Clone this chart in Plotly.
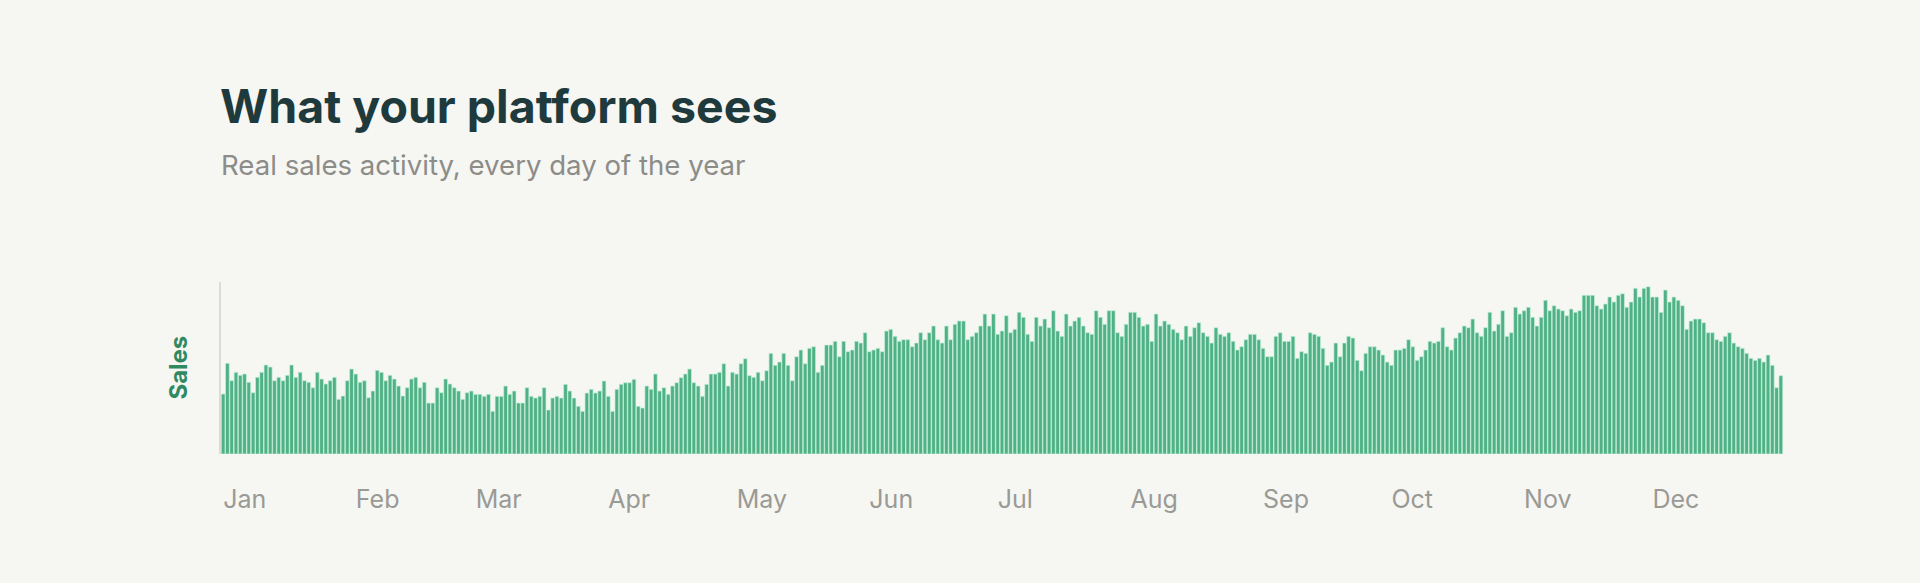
import pandas as pd
import plotly.graph_objects as go

# Daily sales (one list per month)
jan = [60, 90.7, 73.3, 81.7, 78.7, 80, 71.7, 61.3, 76.7, 81.7, 89, 87, 73.3, 76.7, 73.3, 78.7,
       89, 76.7, 81.7, 73.3, 71.7, 66.3, 81.7, 75, 70, 73.3, 76.7, 54.7, 58, 73.3, 85]
feb = [80, 71.7, 73.3, 56.3, 63, 83.7, 81.7, 73.3, 78.7, 75, 68, 58, 66.3, 75, 76.7, 66.3,
       71.7, 51, 51, 66.3, 61.3, 75, 70, 66.3, 63, 54.7, 61.3, 63]
mar = [59.7, 59.7, 57.7, 59.7, 42.7, 57.7, 57.7, 68, 59.7, 63, 51, 51, 66.3, 57.7, 56, 57.7,
       66.3, 44, 56, 57.7, 56, 69.7, 63, 56, 47.7, 42.7, 61, 64.7, 61, 63, 73]
apr = [57.7, 42.7, 64.7, 69.7, 71.3, 71.3, 74.7, 47.7, 46, 68, 64.7, 80, 63, 66.3, 59.7, 68,
       71.3, 76.3, 80, 85, 71.3, 68, 57.7, 69.7, 80, 80, 81.7, 90.3, 68, 81.7]
may = [80, 90.3, 95.3, 78.3, 76.7, 81.7, 73.3, 83.3, 100.7, 88.7, 92, 100.7, 88.7, 73.3, 97.3,
       104, 90.3, 105.7, 107.3, 81.7, 88.7, 109, 109, 112.7, 97.3, 112.7, 102.3, 104, 112.7,
       111, 121.3]
jun = [102.3, 104, 105.7, 102.3, 123, 124.7, 117.7, 112.7, 114.3, 114.3, 107.3, 111, 121.3,
       114.3, 121.3, 128, 114.3, 111, 128, 114.3, 129.7, 133, 133, 114.3, 117.7, 121.3, 128,
       140, 128, 140]
jul = [119.7, 123, 138.3, 121.3, 124.7, 141.7, 136.7, 119.7, 112.7, 136.7, 128, 135, 126.3,
       143.3, 123, 117.7, 140, 128, 133, 136.7, 128, 121.3, 119.7, 143.3, 136.7, 129.7, 143.3,
       143.3, 121.3, 117.7, 129.7]
aug = [141.7, 141.7, 136.7, 128, 129.7, 112.7, 140, 128, 133, 129.7, 124.7, 121.3, 114.3, 128,
       117.7, 126.3, 131.3, 121.3, 117.7, 111, 126.3, 119.7, 117.7, 121.3, 112.7, 104, 107.3,
       114.3, 119.7, 119.7, 114.3]
sep = [105.7, 97.3, 97.3, 117.7, 121.3, 112.7, 112.7, 117.7, 95.7, 102.3, 100.7, 121.3, 119.7,
       117.7, 105.7, 88.7, 92, 111, 97.3, 111, 117.7, 116, 93.7, 83.3, 100.7, 107.3, 107.3,
       104, 99, 92]
oct = [88.7, 104, 104, 105.7, 114.3, 107.3, 93.7, 97.3, 104, 112.7, 111, 112.7, 126.3, 107.3,
       104, 116, 121.3, 128, 126.3, 135, 121.3, 117.7, 126.3, 141.7, 123, 129.7, 143.3, 117.7,
       121.3, 146.7, 140]
nov = [143.3, 146.7, 136.7, 128, 136.7, 153.7, 143.3, 148.3, 145, 143.3, 138.3, 145, 141.7,
       143.3, 158.7, 158.7, 158.7, 148.3, 145, 150, 157, 152, 158.7, 160.3, 146.7, 152, 165.7,
       157, 165.7, 167.3]
dec = [157, 157, 141.7, 164, 152, 157, 153.7, 148.3, 124.7, 133, 135, 135, 131.3, 121.3, 121.3,
       114.3, 112.7, 117.7, 121.3, 111, 107.3, 105.7, 100.7, 95.7, 93.7, 95.7, 92, 99, 88.7,
       66.3, 78.3]

month_labels = ["Jan", "Feb", "Mar", "Apr", "May", "Jun",
                "Jul", "Aug", "Sep", "Oct", "Nov", "Dec"]

sales = jan + feb + mar + apr + may + jun + jul + aug + sep + oct + nov + dec
days = pd.date_range("2025-01-01", periods=len(sales), freq="D")
month_starts = pd.date_range("2025-01-01", periods=12, freq="MS")

BG = "#f6f6f3"
BAR = "#4fb185"
BAR_EDGE = "#c6f0da"

fig = go.Figure()
fig.add_trace(
    go.Bar(
        x=days,
        y=sales,
        marker=dict(color=BAR, line=dict(color=BAR_EDGE, width=0.7)),
        hovertemplate="%{x|%b %d}: %{y}<extra></extra>",
    )
)

fig.update_layout(
    width=1920,
    height=583,
    paper_bgcolor=BG,
    plot_bgcolor=BG,
    bargap=0.12,
    showlegend=False,
    margin=dict(l=221, r=137, t=282, b=129, autoexpand=False),
    font=dict(family="Inter", color="#999994"),
    xaxis=dict(
        type="date",
        range=["2024-12-31 12:00", "2025-12-31 12:00"],
        tickvals=month_starts,
        ticktext=month_labels,
        ticklabelposition="outside right",
        ticks="",
        ticklabelstandoff=28,
        tickfont=dict(size=25, color="#9a9a95"),
        showgrid=False,
        zeroline=False,
        showline=False,
    ),
    yaxis=dict(
        range=[0, 172],
        showticklabels=False,
        ticks="",
        showgrid=False,
        zeroline=False,
        showline=True,
        linecolor="#dcdcd6",
        linewidth=1.5,
    ),
    annotations=[
        dict(
            text="<b>What your platform sees</b>",
            xref="paper", yref="paper", x=-0.002, y=2.023,
            xanchor="left", yanchor="middle", showarrow=False,
            font=dict(family="Inter", size=46.5, color="#1f3a3c"),
        ),
        dict(
            text="Real sales activity, every day of the year",
            xref="paper", yref="paper", x=-0.001, y=1.68,
            xanchor="left", yanchor="middle", showarrow=False,
            font=dict(family="Inter", size=27.6, color="#8c8c88"),
        ),
        dict(
            text="<b>Sales</b>",
            xref="paper", yref="paper", x=-0.0278, y=0.5,
            xanchor="center", yanchor="middle", textangle=-90, showarrow=False,
            font=dict(family="Inter", size=24, color="#2f8a62"),
        ),
    ],
)

# the page is photographed edge to edge, so drop the default body margin
fig.write_html(
    "out.html",
    config={"displayModeBar": False},
    post_script=f"document.body.style.margin='0';document.body.style.background='{BG}';",
)
